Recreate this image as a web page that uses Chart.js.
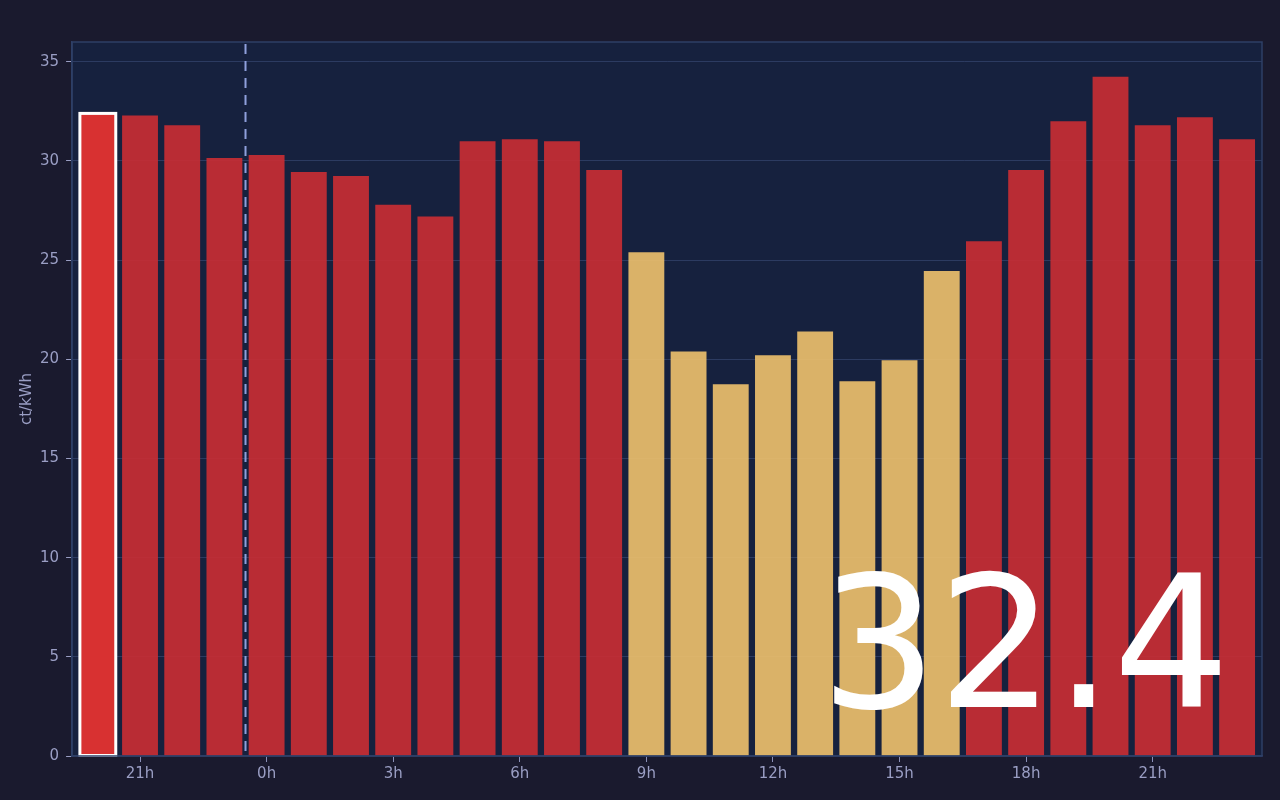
<!DOCTYPE html>
<html>
<head>
<meta charset="utf-8">
<script src="https://cdn.jsdelivr.net/npm/chart.js@4.4.1/dist/chart.umd.min.js"></script>
<style>
  html, body { margin: 0; padding: 0; background: #1a1a2e; width: 1280px; height: 800px; overflow: hidden; }
  #wrap { position: relative; width: 1280px; height: 800px; }
  canvas { display: block; }
  #big { position: absolute; right: 50px; bottom: 65px; color: #ffffff; font-family: "DejaVu Sans", sans-serif;
         font-size: 184px; line-height: 1; pointer-events: none; }
</style>
</head>
<body>
<div id="wrap">
  <canvas id="c" width="1280" height="800"></canvas>
  <div id="big">32.4</div>
</div>
<script>
const hours = [20,21,22,23,0,1,2,3,4,5,6,7,8,9,10,11,12,13,14,15,16,17,18,19,20,21,22,23];
const labels = hours.map(h => h + 'h');
const prices = [32.4,32.3,31.8,30.15,30.3,29.45,29.25,27.8,27.2,31.0,31.1,31.0,29.55,25.4,20.4,18.75,20.2,21.4,18.9,19.95,24.45,25.95,29.55,32.0,34.25,31.8,32.2,31.1];
const currentIndex = 0;
const midnightIndex = 4;
const cheapThreshold = 25.5;
const yMax = 36;
const xMin = -0.61;
const xMax = 27.59;
const currentValueText = '32.4';

const RED = 'rgba(203,46,51,0.9)';
const RED_NOW = '#d83131';
const YELLOW = 'rgba(239,194,109,0.9)';

const points = prices.map((v, i) => ({ x: i, y: v }));
const bg = prices.map((v, i) => i === currentIndex ? RED_NOW : (v < cheapThreshold ? YELLOW : RED));

const plotBg = {
  id: 'plotBg',
  beforeDraw(chart) {
    const {ctx, chartArea: a} = chart;
    ctx.save();
    ctx.fillStyle = '#16213e';
    ctx.fillRect(a.left, a.top, a.right - a.left, a.bottom - a.top);
    ctx.restore();
  },
  afterDatasetsDraw(chart) {
    const {ctx, chartArea: a, scales} = chart;
    // outline of current hour bar
    const el = chart.getDatasetMeta(0).data[currentIndex];
    if (el) {
      const p = el.getProps(['x', 'y', 'base', 'width'], true);
      ctx.save();
      ctx.strokeStyle = '#ffffff';
      ctx.lineWidth = 3;
      ctx.strokeRect(p.x - p.width / 2, p.y, p.width, p.base - p.y);
      ctx.restore();
    }
    // midnight marker
    const x = scales.x.getPixelForValue(midnightIndex - 0.5);
    ctx.save();
    ctx.strokeStyle = '#8fa0dc';
    ctx.lineWidth = 2;
    ctx.setLineDash([10, 7]);
    ctx.beginPath();
    ctx.moveTo(x, a.top + 2);
    ctx.lineTo(x, a.bottom);
    ctx.stroke();
    ctx.restore();
  }
};

document.getElementById('big').textContent = currentValueText;

new Chart(document.getElementById('c'), {
  type: 'bar',
  data: {
    datasets: [{
      data: points,
      backgroundColor: bg,
      borderWidth: 0,
      barPercentage: 0.85,
      categoryPercentage: 1.0
    }]
  },
  options: {
    responsive: false,
    animation: false,
    devicePixelRatio: 1,
    layout: { padding: { left: 0, right: 18, top: 42, bottom: 14 } },
    plugins: { legend: { display: false }, tooltip: { enabled: false } },
    scales: {
      x: {
        type: 'linear',
        min: xMin, max: xMax,
        offset: false,
        grid: { display: true, offset: false, drawOnChartArea: false, drawTicks: true, tickLength: 6, color: '#8a8fb8' },
        border: { display: true, color: '#2e3f66', width: 1.5 },
        ticks: {
          stepSize: 1, color: '#9a9ec4', font: { family: 'DejaVu Sans', size: 15 }, padding: 3,
          autoSkip: false, maxRotation: 0,
          callback: v => {
            if (!Number.isInteger(v) || v < 0 || v >= labels.length) return null;
            return hours[v] % 3 === 0 ? labels[v] : null;
          }
        }
      },
      y: {
        min: 0, max: yMax,
        grid: { color: 'rgba(70,90,140,0.45)', tickLength: 6, tickColor: '#9a9ec4', lineWidth: 1 },
        border: { display: true, color: '#2e3f66', width: 1.5 },
        ticks: {
          stepSize: 5, color: '#9a9ec4', font: { family: 'DejaVu Sans', size: 15 }, padding: 7,
          callback: v => (v % 5 === 0 ? String(v) : null)
        },
        title: { display: true, text: 'ct/kWh', color: '#9a9ec4', font: { family: 'DejaVu Sans', size: 15, lineHeight: 0.8 }, padding: { top: 21, bottom: 0 } }
      }
    }
  },
  plugins: [plotBg, {
    id: 'frame',
    afterDraw(chart) {
      const {ctx, chartArea: a} = chart;
      ctx.save();
      ctx.strokeStyle = '#2e3f66';
      ctx.lineWidth = 1.5;
      ctx.strokeRect(a.left, a.top, a.right - a.left, a.bottom - a.top);
      ctx.restore();
    }
  }]
});
</script>
</body>
</html>
